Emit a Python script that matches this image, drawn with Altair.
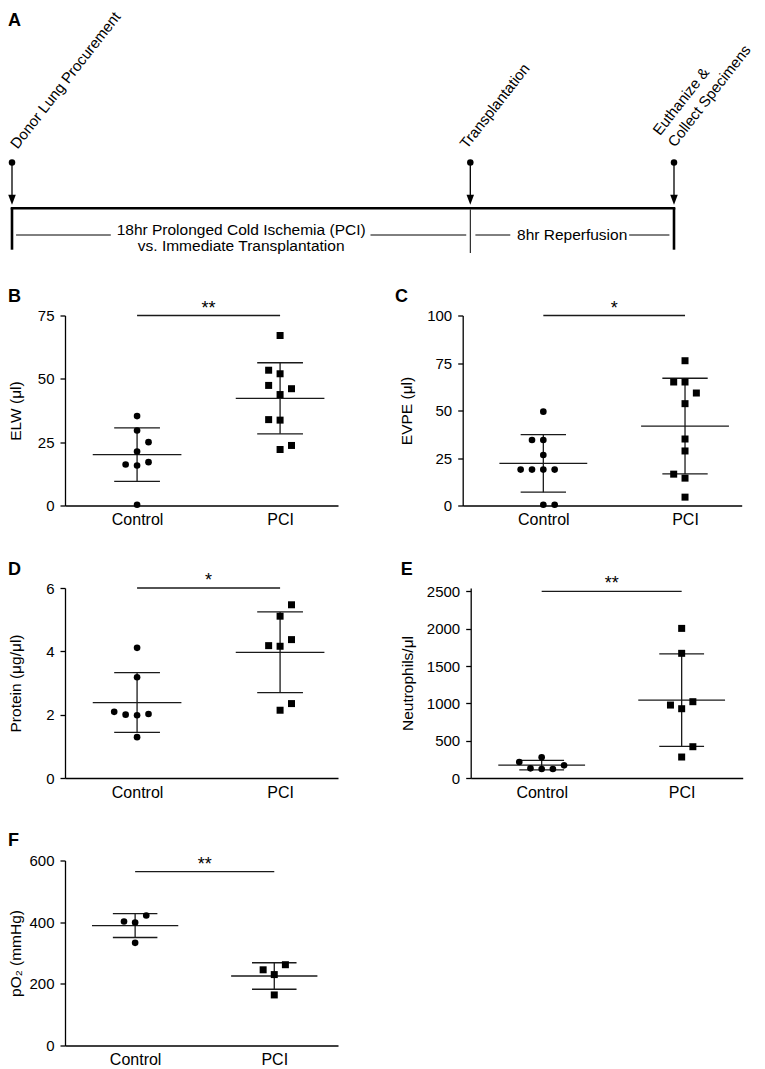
import altair as alt
import pandas as pd

FONT = "Liberation Sans"
INK = "#000000"
LINE = "#1a1a1a"

# ---------------- Panel A: experimental timeline ----------------
event_labels = ["Donor Lung Procurement", "Transplantation", "Euthanize &\nCollect Specimens"]
event_hours = [0, 18, 26]
phase_labels = ["18hr Prolonged Cold Ischemia (PCI)\nvs. Immediate Transplantation", "8hr Reperfusion"]
phase_start = [0, 18]
phase_end = [18, 26]
phase_rule_from = [0.16, 14.08, 18.2, 24.24]
phase_rule_to = [3.88, 17.84, 19.57, 25.82]

# ---------------- Panels B-F: Control vs PCI ----------------
groups = ["Control", "PCI"]

elw_control = [35.3, 29.6, 25.0, 21.3, 17.1, 16.2, 15.8, 0.3]
elw_control_col = [0, 0, 1, 0, 1, -1, 0, 0]
elw_pci = [67.1, 53.4, 52.0, 47.4, 46.1, 43.8, 33.9, 33.7, 23.7, 22.1]
elw_pci_col = [0, -1, 0, -1, 1, 0, -1, 0, 1, 0]

evpe_control = [49.4, 34.5, 34.5, 26.6, 18.9, 18.9, 18.9, 18.9, 0.4, 0.4]
evpe_control_col = [0, -1, 0, 0, -2, -1, 0, 1, 0, 1]
evpe_pci = [76.2, 65.0, 65.0, 59.2, 53.6, 35.0, 28.7, 16.5, 14.4, 4.4]
evpe_pci_col = [0, -1, 0, 1, 0, 0, 0, -1, 0, 0]

protein_control = [4.11, 3.18, 2.09, 2.00, 1.98, 2.02, 1.29]
protein_control_col = [0, 0, -2, -1, 0, 1, 0]
protein_pci = [5.47, 5.11, 4.37, 4.18, 4.16, 2.35, 2.14]
protein_pci_col = [1, 0, 1, -1, 0, 1, 0]

neut_control = [214, 277, 129, 121, 121, 170]
neut_control_col = [-2, 0, -1, 0, 1, 2]
neut_pci = [2004, 1670, 977, 1022, 928, 419, 281]
neut_pci_col = [0, 0, -1, 1, 0, 1, 0]

po2_control = [421.6, 402, 399, 333]
po2_control_col = [1, -1, 0, 0]
po2_pci = [262, 245.5, 230, 164]
po2_pci_col = [1, -1, 0, 0]

panel_letters = ["B", "C", "D", "E", "F"]
y_titles = ["ELW (\u03bcl)", "EVPE (\u03bcl)", "Protein (\u03bcg/\u03bcl)", "Neutrophils/\u03bcl", "pO\u2082 (mmHg)"]
y_ticks = [[0, 25, 50, 75], [0, 25, 50, 75, 100], [0, 2, 4, 6],
           [0, 500, 1000, 1500, 2000, 2500], [0, 200, 400, 600]]
sig_level = [75, 100, 6, 2500, 564]
sig_stars = ["**", "*", "*", "**", "**"]

A_TOP = 8
A_HEIGHT = 222


def ay(page_y):
    return page_y - A_TOP


def letter_layer(letter, x, y):
    return alt.Chart(pd.DataFrame({"letter": [letter]})).mark_text(
        align="left", baseline="alphabetic", fontSize=18, fontWeight="bold",
        font=FONT, color=INK).encode(x=alt.value(x), y=alt.value(y), text="letter:N")


# ---------------- build panel A ----------------
events = pd.DataFrame({"label": event_labels, "hour": event_hours})
phases = pd.DataFrame({"label": phase_labels, "start": phase_start, "end": phase_end})
phase_rules = pd.DataFrame({"x1": phase_rule_from, "x2": phase_rule_to})

a_scale = alt.Scale(domain=[min(event_hours), max(event_hours)], range=[-53, 609])


def AX(f):
    return alt.X(f, type="quantitative", scale=a_scale, axis=None)


ev = alt.Chart(events)
ev_ext = ev.transform_joinaggregate(mn="min(hour)", mx="max(hour)")
a_bar = ev.transform_aggregate(start="min(hour)", end="max(hour)").mark_rule(
    color=INK, strokeWidth=2.6, strokeCap="square"
).encode(x=AX("start"), x2=alt.X2("end"), y=alt.value(ay(205.2)))
a_ends = ev_ext.transform_filter(
    "datum.hour == datum.mn || datum.hour == datum.mx"
).mark_rule(color=INK, strokeWidth=2.6).encode(
    x=AX("hour"), y=alt.value(ay(205)), y2=alt.value(ay(246.7)))
a_mids = ev_ext.transform_filter(
    "datum.hour > datum.mn && datum.hour < datum.mx"
).mark_rule(color=INK, strokeWidth=1).encode(
    x=AX("hour"), y=alt.value(ay(206.5)), y2=alt.value(ay(250)))
a_shafts = ev.mark_rule(color=INK, strokeWidth=1.3).encode(
    x=AX("hour"), y=alt.value(ay(159.5)), y2=alt.value(ay(197)))
a_heads = ev.mark_point(shape="M-0.75,-1L0,1L0.75,-1Z", filled=True, size=100,
                        color=INK, opacity=1, strokeWidth=0).encode(
    x=AX("hour"), y=alt.value(ay(196.7)))
a_dots = ev.mark_circle(size=42, color=INK, opacity=1).encode(
    x=AX("hour"), y=alt.value(ay(159.5)))

label_style = dict(angle=308, align="left", baseline="bottom", fontSize=15,
                   lineBreak="\n", lineHeight=19, font=FONT, color=INK)
a_lab_first = ev_ext.transform_filter("datum.hour == datum.mn").mark_text(
    dx=4.5, dy=6.6, **label_style).encode(
    x=AX("hour"), y=alt.value(ay(148)), text="label:N")
a_lab_mid = ev_ext.transform_filter("datum.hour > datum.mn && datum.hour < datum.mx").mark_text(
    dx=-0.9, dy=-0.4, **label_style).encode(
    x=AX("hour"), y=alt.value(ay(148)), text="label:N")
a_lab_last = ev_ext.transform_filter("datum.hour == datum.mx").mark_text(
    dx=3.0, dy=-17.1, **label_style).encode(
    x=AX("hour"), y=alt.value(ay(148)), text="label:N")

ph = alt.Chart(phases).transform_calculate(mid="(datum.start + datum.end) / 2")
a_ph1 = ph.transform_filter(alt.datum.start == phase_start[0]).mark_text(
    baseline="alphabetic", lineBreak="\n", lineHeight=16.6, fontSize=15.5,
    font=FONT, color=INK).encode(x=AX("mid"), y=alt.value(ay(231.7)), text="label:N")
a_ph2 = ph.transform_filter(alt.datum.start == phase_start[1]).mark_text(
    baseline="alphabetic", fontSize=15.5, font=FONT, color=INK).encode(
    x=AX("mid"), y=alt.value(ay(236.7)), text="label:N")
a_segs = alt.Chart(phase_rules).mark_rule(color=INK, strokeWidth=1).encode(
    x=AX("x1"), x2=alt.X2("x2"), y=alt.value(ay(232)))

panel_a = alt.layer(
    a_segs, a_bar, a_ends, a_mids, a_shafts, a_heads, a_dots,
    a_lab_first, a_lab_mid, a_lab_last, a_ph1, a_ph2,
    letter_layer("A", -57, ay(23.3)),
).properties(width=273, height=A_HEIGHT)


# ---------------- scatter panels ----------------
def scatter_panel(i, ctrl, ctrl_col, pci, pci_col, ymax, width, height, xdomain,
                  letter_x, letter_y, title_x, x_start=0, axis_offset=0):
    df = pd.DataFrame({
        "group": [1] * len(ctrl) + [2] * len(pci),
        "value": list(ctrl) + list(pci),
        "col": list(ctrl_col) + list(pci_col),
    })
    xscale = alt.Scale(domain=xdomain, range=[x_start, width], nice=False, zero=False)
    yscale = alt.Scale(domain=[0, ymax], nice=False, zero=True)
    xaxis = alt.Axis(values=[1, 2],
                     labelExpr=f"datum.value == 1 ? '{groups[0]}' : '{groups[1]}'",
                     ticks=False, tickSize=0, grid=False, title=None,
                     labelFontSize=16, labelPadding=6, labelFlush=False,
                     labelOverlap=False)
    yaxis = alt.Axis(values=y_ticks[i], format="d", title=y_titles[i], grid=False,
                     tickSize=5, labelPadding=6, labelFontSize=15, titleFontSize=15.5,
                     titleFontWeight="normal", titleX=title_x, titleY=height / 2,
                     offset=axis_offset, labelFlush=False, labelOverlap=False)

    def X(f):
        return alt.X(f, type="quantitative", scale=xscale, axis=xaxis)

    def Y(f):
        return alt.Y(f, type="quantitative", scale=yscale, axis=yaxis)

    base = alt.Chart(df)
    pts = base.transform_calculate(xpos="datum.group + datum.col * 0.08")
    circles = pts.transform_filter("datum.group == 1").mark_circle(
        size=44, color=INK, opacity=1).encode(x=X("xpos"), y=Y("value"))
    squares = pts.transform_filter("datum.group == 2").mark_square(
        size=49, color=INK, opacity=1).encode(x=X("xpos"), y=Y("value"))

    stats = base.transform_aggregate(
        m="mean(value)", s="stdev(value)", groupby=["group"]
    ).transform_calculate(
        lo="datum.m - datum.s", hi="datum.m + datum.s",
        ml="datum.group - 0.31", mr="datum.group + 0.31",
        sl="datum.group - 0.16", sr="datum.group + 0.16",
    )
    mean_rule = stats.mark_rule(color=LINE, strokeWidth=1.3).encode(
        x=X("ml"), x2=alt.X2("mr"), y=Y("m"))
    sd_hi = stats.mark_rule(color=LINE, strokeWidth=1.3).encode(
        x=X("sl"), x2=alt.X2("sr"), y=Y("hi"))
    sd_lo = stats.mark_rule(color=LINE, strokeWidth=1.3).encode(
        x=X("sl"), x2=alt.X2("sr"), y=Y("lo"))
    sd_v = stats.mark_rule(color=LINE, strokeWidth=1.3).encode(
        x=X("group"), y=Y("lo"), y2=alt.Y2("hi"))

    sig_df = pd.DataFrame({"x1": [1], "x2": [2], "y": [sig_level[i]], "label": [sig_stars[i]]})
    sig = alt.Chart(sig_df).mark_rule(color=LINE, strokeWidth=1.3).encode(
        x=X("x1"), x2=alt.X2("x2"), y=Y("y"))
    star = alt.Chart(sig_df).transform_calculate(xm="(datum.x1 + datum.x2) / 2").mark_text(
        fontSize=18, baseline="alphabetic", dy=-2, font=FONT, color=INK).encode(
        x=X("xm"), y=Y("y"), text="label:N")

    return alt.layer(
        sig, mean_rule, sd_hi, sd_lo, sd_v, circles, squares, star,
        letter_layer(panel_letters[i], letter_x, letter_y),
    ).properties(width=width, height=height)


panel_b = scatter_panel(0, elw_control, elw_control_col, elw_pci, elw_pci_col,
                        75, 273, 190, [0.496, 2.405], -57, -13.3, -41.5)
panel_c = scatter_panel(1, evpe_control, evpe_control_col, evpe_pci, evpe_pci_col,
                        100, 279, 190, [0.431, 2.4], -67.7, -13.3, -48)
panel_d = scatter_panel(2, protein_control, protein_control_col, protein_pci, protein_pci_col,
                        6, 273, 190, [0.496, 2.405], -57, -13.5, -41.5)
panel_e = scatter_panel(3, neut_control, neut_control_col, neut_pci, neut_pci_col,
                        2545, 280, 190, [0.493, 2.436], -62, -13.5, -55,
                        x_start=8, axis_offset=-8)
panel_f = scatter_panel(4, po2_control, po2_control_col, po2_pci, po2_pci_col,
                        600, 273, 185, [0.496, 2.458], -57, -15, -41.5)

blank = alt.Chart(pd.DataFrame({"v": [0]})).mark_point(opacity=0).encode(
    x=alt.value(0), y=alt.value(0)).properties(width=10, height=10)

chart = alt.concat(
    panel_a, blank, panel_b, panel_c, panel_d, panel_e, panel_f,
    columns=2, spacing={"row": 82.5, "column": 124.7}, bounds="flush", padding=0,
).configure(font=FONT).configure_view(stroke=None).configure_axis(
    labelFont=FONT, titleFont=FONT, labelColor=INK, titleColor=INK,
    domainColor=INK, tickColor=INK, domainWidth=1.3, tickWidth=1.3,
)

chart.save("out.html", embed_options={"renderer": "svg", "actions": False})
